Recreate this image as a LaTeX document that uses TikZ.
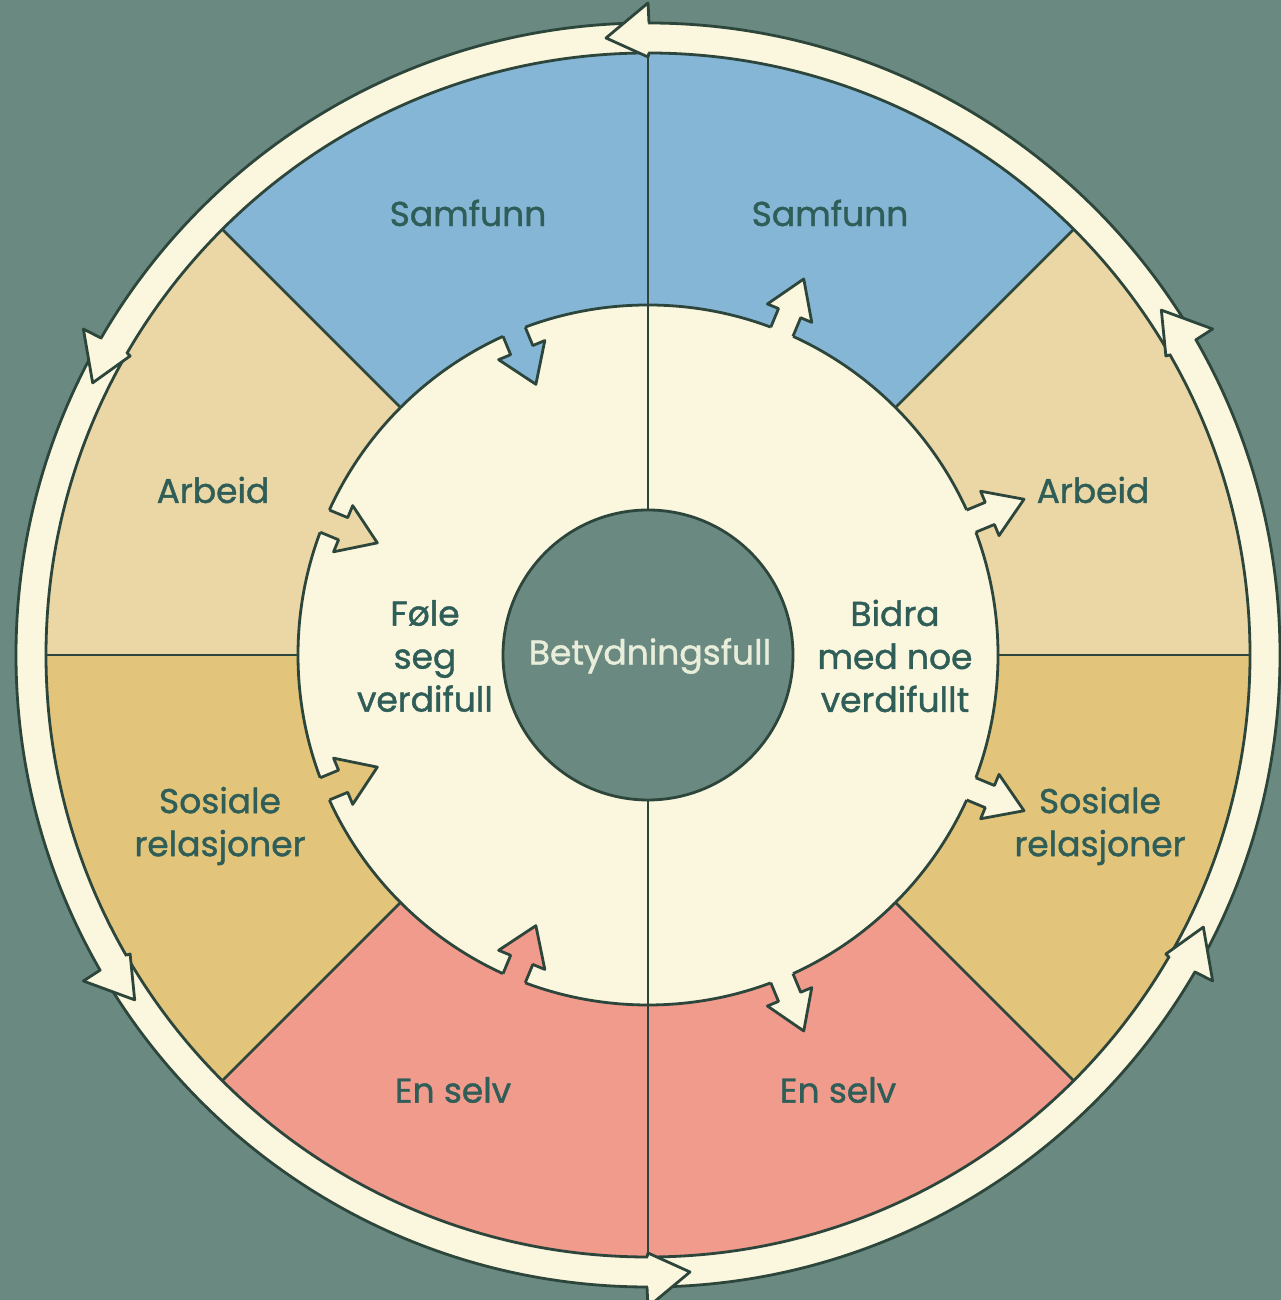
\documentclass[tikz,border=0pt]{standalone}
\usepackage{fontspec}
\setmainfont{Poppins}
\newfontfamily\lblfont{Poppins}[FakeBold=1.2]
\definecolor{bgc}{HTML}{6A8980}
\definecolor{creamc}{HTML}{FBF6DE}
\definecolor{bluec}{HTML}{86B6D6}
\definecolor{tanc}{HTML}{EBD7A5}
\definecolor{goldc}{HTML}{E2C57A}
\definecolor{salc}{HTML}{F09B8C}
\definecolor{olc}{HTML}{2D463C}
\definecolor{txtc}{HTML}{2F5D57}
\definecolor{ctxt}{HTML}{E9EEDB}
\begin{document}
\begin{tikzpicture}[x=1pt,y=1pt,line join=round,
  outl/.style={draw=olc,line width=2.8},
  lbl/.style={text=txtc,align=center,font=\lblfont\fontsize{34.5}{43}\selectfont}]
\useasboundingbox (0,0) rectangle (1281,1300);
\fill[bgc] (0,0) rectangle (1281,1300);
\coordinate (O) at (648,645);
\begin{scope}[shift={(O)}]
  % outer band
  \fill[creamc] (0,0) circle (632);
  \draw[outl] (0,0) circle (632);
  % sectors
  \fill[bluec] (0,0) -- (45:602) arc[start angle=45,end angle=135,radius=602] -- cycle;
  \fill[tanc] (0,0) -- (135:602) arc[start angle=135,end angle=180,radius=602] -- cycle;
  \fill[goldc] (0,0) -- (180:602) arc[start angle=180,end angle=225,radius=602] -- cycle;
  \fill[salc] (0,0) -- (225:602) arc[start angle=225,end angle=315,radius=602] -- cycle;
  \fill[goldc] (0,0) -- (315:602) arc[start angle=315,end angle=360,radius=602] -- cycle;
  \fill[tanc] (0,0) -- (0:602) arc[start angle=0,end angle=45,radius=602] -- cycle;
  \draw[outl] (0,0) circle (602);
  \foreach \a in {0,45,...,315} \draw[outl] (\a:350) -- (\a:602);
  % inner circle
  \fill[creamc] (0,0) circle (350);
  \draw[outl] (0,0) circle (350);
  % inward arrows (left half)
  \foreach \a/\c in {112.5/bluec,157.5/tanc,202.5/goldc,247.5/salc}{
    \begin{scope}[rotate=\a]
      \fill[\c] (357,12) -- (330,12) -- (330,25) -- (293,0) -- (330,-25) -- (330,-12) -- (357,-12) -- cycle;
      \draw[outl] (349.8,12) -- (330,12) -- (330,25) -- (293,0) -- (330,-25) -- (330,-12) -- (349.8,-12);
    \end{scope}}
  % outward arrows (right half)
  \foreach \a in {67.5,22.5,-22.5,-67.5}{
    \begin{scope}[rotate=\a]
      \fill[creamc] (343,12) -- (370,12) -- (370,24) -- (407,0) -- (370,-24) -- (370,-12) -- (343,-12) -- cycle;
      \draw[outl] (349.8,12) -- (370,12) -- (370,24) -- (407,0) -- (370,-24) -- (370,-12) -- (349.8,-12);
    \end{scope}}
  % vertical divider through inner circle
  \draw[draw=olc,line width=1.8] (90:145) -- (90:350);
  \draw[draw=olc,line width=1.8] (270:145) -- (270:350);
  % centre circle
  \fill[bgc] (0,0) circle (145);
  \draw[outl] (0,0) circle (145);
  % band arrowheads (counterclockwise)
  \foreach \a in {30,90,150,210,270,330}{
    \begin{scope}[rotate=\a]
      \fill[creamc] (599,0) -- (617,42) -- (652,0) -- cycle;
      \draw[outl] (602,-1) -- (598,0) -- (617,42) -- (652,0) -- (632,-1);
    \end{scope}}
\end{scope}
% labels
\node[lbl] (s1) at (468,1087) {Samfunn};
\node[lbl] (s2) at (830,1087) {Samfunn};
\node[lbl] (a1) at (213,810) {Arbeid};
\node[lbl] (a2) at (1093,810) {Arbeid};
\node[lbl] (r1) at (220,474) {Sosiale\\relasjoner};
\node[lbl] (r2) at (1100,474) {Sosiale\\relasjoner};
\node[lbl] (e1) at (453,210) {En selv};
\node[lbl] (e2) at (838,210) {En selv};
\node[lbl] (f1) at (425,644) {Føle\\seg\\verdifull};
\node[lbl] (b1) at (895,644) {Bidra\\med noe\\verdifullt};
\node[lbl,text=ctxt] (c1) at (650,644) {Betydningsfull};
\end{tikzpicture}
\end{document}
